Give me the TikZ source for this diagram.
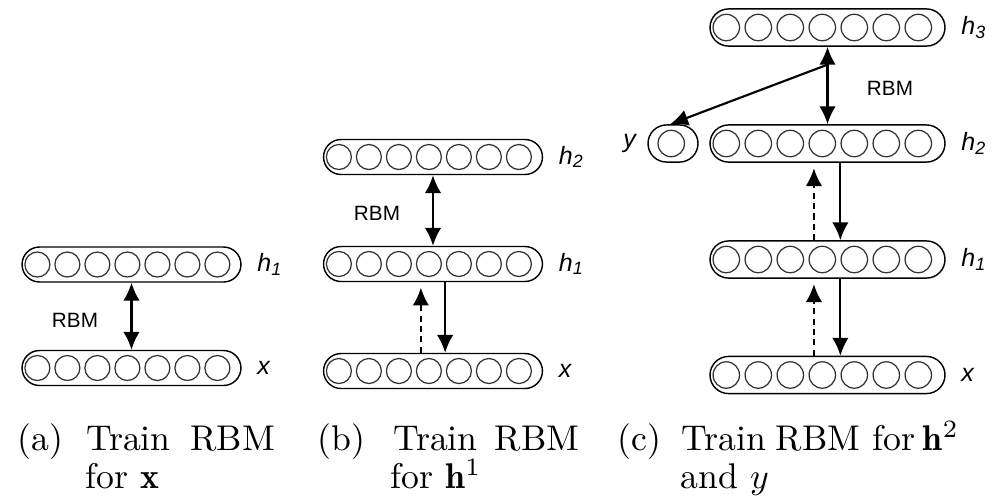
\documentclass[tikz,border=0pt]{standalone}
\usepackage{fontspec}
\setsansfont{Liberation Sans}
\usetikzlibrary{arrows.meta, positioning, shapes.misc}

\begin{document}
\begin{tikzpicture}[x = 0.28pt, y = -0.28pt,
    layerbox/.style = {shape = rounded rectangle, draw, line width = 0.4pt, inner sep = 0pt,
        minimum width = 61.3pt, minimum height = 9.8pt},
    biglayer/.style = {layerbox, minimum width = 65.8pt, minimum height = 10.4pt},
    unit/.style = {draw = black!80, line width = 0.35pt},
    lab/.style = {inner sep = 0pt, font = \fontsize{7}{8}\selectfont\sffamily\itshape},
    rbm/.style = {inner sep = 0pt, font = \fontsize{5.8}{6}\selectfont\sffamily},
    link/.style = {line width = 0.6pt, -{Latex[length = 5pt, width = 4.6pt]}},
    both/.style = {link, {Latex[length = 5pt, width = 4.6pt]}-{Latex[length = 5pt, width = 4.6pt]}},
    back/.style = {link, dash pattern = on 1.7pt off 1.2pt, shorten > = 1.5pt},
    captext/.style = {inner sep = 0pt, anchor = base west}]
    \useasboundingbox (0,0) rectangle (992,498);

    \node[layerbox] (a1) at (131.5,264.5) {};
    \node[layerbox] (a0) at (131.5,368) {};
    \node[layerbox] (b2) at (433,157) {};
    \node[layerbox] (b1) at (433,264) {};
    \node[layerbox] (b0) at (433,371) {};
    \node[biglayer] (c3) at (827.5,27.5) {};
    \node[biglayer] (c2) at (827.5,143.5) {};
    \node[biglayer] (c1) at (827.5,259.5) {};
    \node[biglayer] (c0) at (827.5,375) {};
    \node[biglayer, minimum width = 14pt] (cy) at (673,143.5) {};

    \foreach \l in {a1,a0,b2,b1,b0}
        \foreach \i in {0,...,6}
            \draw[unit] ([xshift = {4.5pt + \i*8.4pt}]\l.west) circle[radius = 3.5pt];
    \foreach \l in {c3,c2,c1,c0}
        \foreach \i in {0,...,6}
            \draw[unit] ([xshift = {4.76pt + \i*8.96pt}]\l.west) circle[radius = 3.7pt];
    \draw[unit] ([xshift = -0.5pt]cy.center) circle[radius = 3.7pt];

    \node[lab, right = 4.2pt of a1] (la1) {h\textsubscript{1}};
    \node[lab, right = 4.2pt of a0] (la0) {x};
    \node[lab, right = 4.2pt of b2] (lb2) {h\textsubscript{2}};
    \node[lab, right = 4.2pt of b1] (lb1) {h\textsubscript{1}};
    \node[lab, right = 4.2pt of b0] (lb0) {x};
    \node[lab, right = 4.2pt of c3] (lc3) {h\textsubscript{3}};
    \node[lab, right = 4.2pt of c2] (lc2) {h\textsubscript{2}};
    \node[lab, right = 4.2pt of c1] (lc1) {h\textsubscript{1}};
    \node[lab, right = 4.2pt of c0] (lc0) {x};
    \node[lab, left = 3pt of cy] (ly) {y};

    \node[rbm] (ra) at (75,320) {RBM};
    \node[rbm] (rb) at (377,213) {RBM};
    \node[rbm] (rc) at (890,88) {RBM};

    \draw[both] (a1.south) -- (a0.north);

    \draw[both] (b2.south) -- (b1.north);
    \draw[link] ([xshift = 3.4pt]b1.south) -- ([xshift = 3.4pt]b0.north);
    \draw[back] ([xshift = -3.4pt]b0.north) -- ([xshift = -3.4pt]b1.south);

    \draw[both] (c3.south) -- (c2.north);
    \coordinate (cs) at ([yshift = -5pt]c3.south);
    \draw[link] (cs) -- ([xshift = -0.8pt]cy.north);
    \draw[link] ([xshift = 3.6pt]c2.south) -- ([xshift = 3.6pt]c1.north);
    \draw[back] ([xshift = -3.8pt]c1.north) -- ([xshift = -3.8pt]c2.south);
    \draw[link] ([xshift = 3.6pt]c1.south) -- ([xshift = 3.6pt]c0.north);
    \draw[back] ([xshift = -3.8pt]c0.north) -- ([xshift = -3.8pt]c1.south);

    \node[captext] (ca1) at (17,450) {(a)\hspace{6.4pt}Train\hspace{5.6pt}RBM};
    \node[captext] (ca2) at (85,488) {for $\mathbf{x}$};
    \node[captext] (cb1) at (317,450) {(b)\hspace{7.8pt}Train\hspace{4.8pt}RBM};
    \node[captext] (cb2) at (390,488) {for $\mathbf{h}^1$};
    \node[captext] (cc1) at (617,450) {(c)\hspace{5.6pt}Train\hspace{2.8pt}RBM\hspace{3.4pt}for\hspace{2.2pt}$\mathbf{h}^2$};
    \node[captext] (cc2) at (680,488) {and $y$};
\end{tikzpicture}
\end{document}
